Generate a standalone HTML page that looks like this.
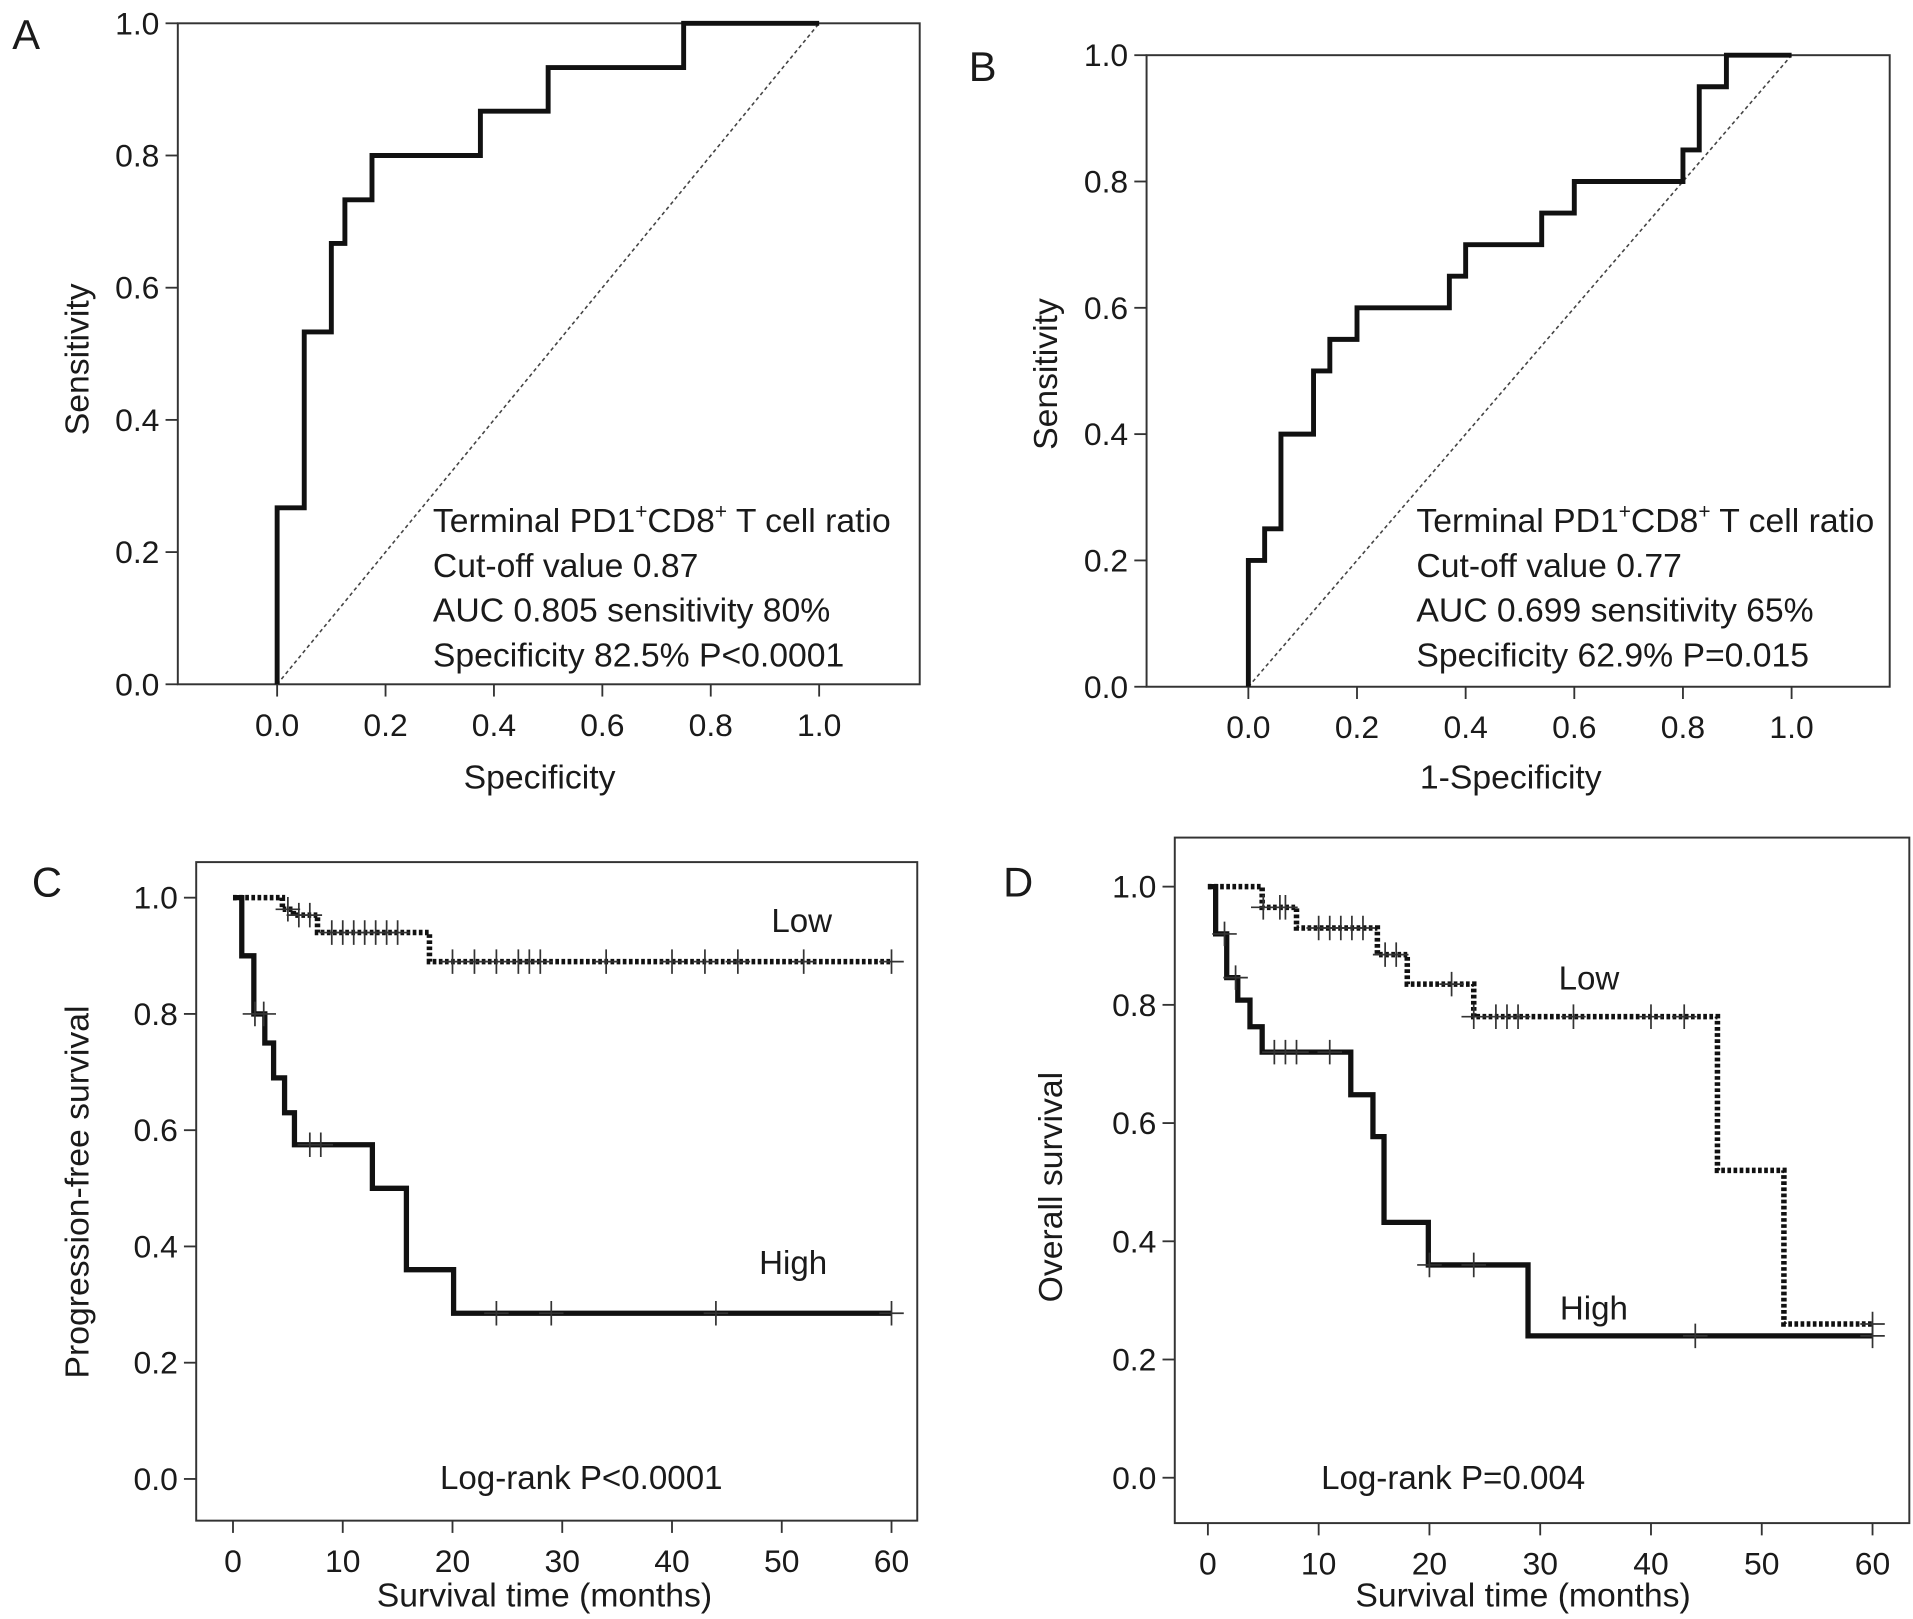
<!DOCTYPE html>
<html><head><meta charset="utf-8"><style>
html,body{margin:0;padding:0;background:#fff}
svg{display:block}
text{font-family:"Liberation Sans",Arial,sans-serif;fill:#1a1a1a}
</style></head><body>
<svg id="fig" width="1913" height="1619" viewBox="0 0 1560 1320.2" preserveAspectRatio="none" xmlns="http://www.w3.org/2000/svg"></svg>
<script>
// Panel A ROC data
const rocAx=[0,0,0.05,0.05,0.1,0.1,0.125,0.125,0.175,0.175,0.375,0.375,0.5,0.5,0.75,0.75,1];
const rocAy=[0,0.267,0.267,0.533,0.533,0.667,0.667,0.733,0.733,0.8,0.8,0.867,0.867,0.933,0.933,1,1];
// Panel B ROC data
const rocBx=[0,0,0.03,0.03,0.06,0.06,0.12,0.12,0.15,0.15,0.2,0.2,0.37,0.37,0.4,0.4,0.54,0.54,0.6,0.6,0.8,0.8,0.83,0.83,0.88,0.88,1];
const rocBy=[0,0.2,0.2,0.25,0.25,0.4,0.4,0.5,0.5,0.55,0.55,0.6,0.6,0.65,0.65,0.7,0.7,0.75,0.75,0.8,0.8,0.85,0.85,0.95,0.95,1,1];
const rocTicks=[0,0.2,0.4,0.6,0.8,1.0];
// Panel C KM
const cHighT=[0.8,1.9,2.9,3.7,4.7,5.6,12.7,15.8,20.1];
const cHighS=[0.9,0.8,0.75,0.69,0.63,0.575,0.5,0.36,0.285];
const cHighCensT=[2,2.8,7,8,24,29,44,60];
const cLowT=[4.5,5.5,7.7,17.9];
const cLowS=[0.98,0.97,0.94,0.89];
const cLowCensT=[5,6,7,9,10,11,12,13,14,15,20,22,24,26,27,28,34,40,43,46,52,60];
// Panel D KM
const dHighT=[0.7,1.7,2.7,3.8,4.9,12.9,14.9,15.9,19.9,28.9];
const dHighS=[0.92,0.846,0.808,0.763,0.72,0.648,0.577,0.432,0.36,0.24];
const dHighCensT=[1.5,2.5,6,7,8,11,20,24,44,60];
const dLowT=[4.9,8,15.3,18,24,46,52];
const dLowS=[0.965,0.93,0.885,0.835,0.78,0.52,0.26];
const dLowCensT=[5,6.5,7,10,11,12,13,14,16,17,22,24,26,27,28,33,40,43,60];
const kmXTicks=[0,10,20,30,40,50,60];
const yTicks=[0,0.2,0.4,0.6,0.8,1.0];

const NS="http://www.w3.org/2000/svg";
const svg=document.getElementById('fig');
function el(tag,attrs,parent,txt){const e=document.createElementNS(NS,tag);for(const k in attrs)e.setAttribute(k,attrs[k]);if(txt!==undefined)e.textContent=txt;(parent||svg).appendChild(e);return e;}

function panel(cfg){
  const g=el('g',{});
  
  
  const X=v=>cfg.x0+(v-cfg.xmin)/(cfg.xmax-cfg.xmin)*(cfg.x1-cfg.x0);
  const Y=v=>cfg.y0+(v-0)/(1)*(cfg.y1-cfg.y0);
  const box=el('rect',{x:cfg.L,y:cfg.T,width:cfg.R-cfg.L,height:cfg.B-cfg.T,fill:'none',stroke:'#333','stroke-width':1.6},g);
  
  
  yTicks.forEach(t=>{
    el('line',{x1:cfg.L-10,x2:cfg.L,y1:Y(t),y2:Y(t),stroke:'#333','stroke-width':1.5},g);
    const tx=el('text',{x:cfg.L-15,y:Y(t)+9,'font-size':26,'text-anchor':'end'},g,t.toFixed(1));
    
    
  });
  cfg.xticks.forEach(t=>{
    el('line',{x1:X(t),x2:X(t),y1:cfg.B,y2:cfg.B+10,stroke:'#333','stroke-width':1.5},g);
    const tx=el('text',{x:X(t),y:cfg.B+42,'font-size':26,'text-anchor':'middle'},g,cfg.fmt(t));
    
    
  });
  const xt=el('text',{x:cfg.xtx,y:cfg.xty,'font-size':27.5,'text-anchor':'middle'},g,cfg.xtitle);
  
  
  const yt=el('text',{x:0,y:0,'font-size':27.5,'text-anchor':'middle',transform:`translate(${cfg.ytx},${cfg.yty}) rotate(-90)`},g,cfg.ytitle);
  
  
  const lt=el('text',{x:cfg.lx,y:cfg.ly,'font-size':34},g,cfg.letter);
  
  
  return {g,X,Y};
}

function roc(cfg,xs,ys,lines){
  const p=panel(cfg);
  const d=el('line',{x1:p.X(0),y1:p.Y(0),x2:p.X(1),y2:p.Y(1),stroke:'#444','stroke-width':1.3,'stroke-dasharray':'3,2.5'},p.g);
  
  
  const pts=xs.map((x,i)=>p.X(x)+','+p.Y(ys[i])).join(' ');
  const c=el('polyline',{points:pts,fill:'none',stroke:'#111','stroke-width':4,'stroke-linejoin':'miter'},p.g);
  
  
  const t=el('text',{x:cfg.annx,y:cfg.anny,'font-size':27.5},p.g);
  
  
  el('tspan',{x:cfg.annx,y:cfg.anny},t,'Terminal PD1');
  el('tspan',{'font-size':17,dy:-11},t,'+');
  el('tspan',{dy:11},t,'CD8');
  el('tspan',{'font-size':17,dy:-11},t,'+');
  el('tspan',{dy:11},t,' T cell ratio');
  lines.forEach((s,i)=>el('tspan',{x:cfg.annx,y:cfg.anny+36.5*(i+1)},t,s));
}

function km(cfg,curves,labels){
  const p=panel(cfg);
  curves.forEach(cv=>{
    let pts=[[0,1]];let s=1;
    cv.t.forEach((t,i)=>{pts.push([t,s]);s=cv.s[i];pts.push([t,s]);});
    pts.push([60,s]);
    const pl=el('polyline',{points:pts.map(q=>p.X(q[0])+','+p.Y(q[1])).join(' '),fill:'none',stroke:'#111','stroke-width':cv.dash?4.5:4.3,'stroke-dasharray':cv.dash?'3,2':'none'},p.g);
    
    
    cv.c.forEach(ct=>{
      let sv=1;cv.t.forEach((t,i)=>{if(ct>=t)sv=cv.s[i];});
      const m=el('path',{d:`M${p.X(ct)-10},${p.Y(sv)}h20M${p.X(ct)},${p.Y(sv)-10}v20`,stroke:'#333','stroke-width':1.4},p.g);
      
      
    });
  });
  labels.forEach(l=>{
    const t=el('text',{x:l[0],y:l[1],'font-size':27,'text-anchor':l[3]||'start'},p.g,l[2]);
    
    
  });
}

roc({name:'panel-a-roc',L:145,R:750,T:19,B:558,x0:226,x1:668,xmin:0,xmax:1,y0:558,y1:19,xticks:rocTicks,fmt:t=>t.toFixed(1),
  xtitle:'Specificity',xtx:440,xty:643,ytitle:'Sensitivity',ytx:72,yty:293,letter:'A',lx:10,ly:40,annx:353,anny:434},
  rocAx,rocAy,['Cut-off value 0.87','AUC 0.805 sensitivity 80%','Specificity 82.5% P<0.0001']);
roc({name:'panel-b-roc',L:935,R:1541,T:45,B:560,x0:1018,x1:1461,xmin:0,xmax:1,y0:560,y1:45,xticks:rocTicks,fmt:t=>t.toFixed(1),
  xtitle:'1-Specificity',xtx:1232,xty:643,ytitle:'Sensitivity',ytx:862,yty:305,letter:'B',lx:790,ly:66,annx:1155,anny:434},
  rocBx,rocBy,['Cut-off value 0.77','AUC 0.699 sensitivity 65%','Specificity 62.9%  P=0.015']);
km({name:'panel-c-pfs',L:160,R:748,T:703,B:1240,x0:190,x1:727,xmin:0,xmax:60,y0:1206,y1:732,xticks:kmXTicks,fmt:t=>String(t),
  xtitle:'Survival time (months)',xtx:444,xty:1310,ytitle:'Progression-free survival',ytx:72,yty:972,letter:'C',lx:26,ly:731},
  [{name:'low-curve',t:cLowT,s:cLowS,c:cLowCensT,dash:true},{name:'high-curve',t:cHighT,s:cHighS,c:cHighCensT}],
  [[629,760,'Low','start','low-label'],[619,1039,'High','start','high-label'],[474,1214,'Log-rank P<0.0001','middle','logrank-text']]);
km({name:'panel-d-os',L:958,R:1557,T:683,B:1242,x0:985,x1:1527,xmin:0,xmax:60,y0:1205,y1:723,xticks:kmXTicks,fmt:t=>String(t),
  xtitle:'Survival time (months)',xtx:1242,xty:1310,ytitle:'Overall survival',ytx:866,yty:968,letter:'D',lx:818,ly:731},
  [{name:'low-curve',t:dLowT,s:dLowS,c:dLowCensT,dash:true},{name:'high-curve',t:dHighT,s:dHighS,c:dHighCensT}],
  [[1271,807,'Low','start','low-label'],[1272,1076,'High','start','high-label'],[1185,1214,'Log-rank P=0.004','middle','logrank-text']]);
</script>
</body></html>
